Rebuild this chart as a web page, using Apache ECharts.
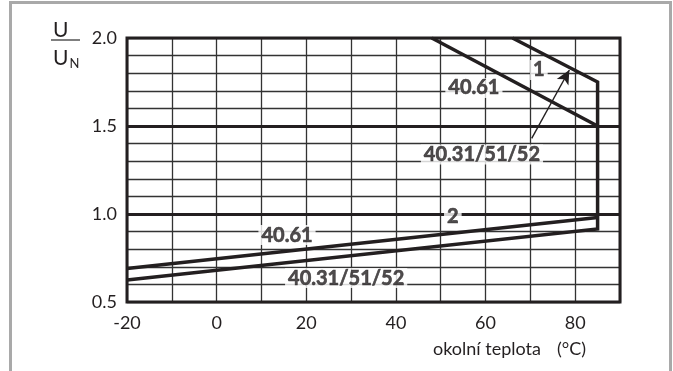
<!DOCTYPE html>
<html>
<head>
<meta charset="utf-8">
<script src="https://cdn.jsdelivr.net/npm/echarts@6/dist/echarts.min.js"></script>
<style>
  html, body { margin: 0; padding: 0; background: #fff; }
  #chart { width: 673px; height: 371px; }
</style>
</head>
<body>
<div id="chart"></div>
<script>
// Axis ranges and labelled ticks
const tempTicks = [-20, 0, 20, 40, 60, 80];
const ratioTicks = [0.5, 1.0, 1.5, 2.0];
const heavyRatioLines = [1.0, 1.5];

// Limit curves, [ambient temperature °C, U/UN]
const relay4031Curve = [[66, 2.0], [85, 1.75], [85, 0.915], [-20, 0.625]];
const relay4061Upper = [[48, 2.0], [85, 1.5]];
const relay4061Lower = [[85, 0.98], [-20, 0.69]];

// Curve annotations placed in data coordinates
const curveLabels = [
  { text: '1', at: [71.9, 1.818] },
  { text: '40.61', at: [57.4, 1.716] },
  { text: '40.31/51/52', at: [59.2, 1.338] },
  { text: '2', at: [52.7, 0.985] },
  { text: '40.61', at: [15.7, 0.88] },
  { text: '40.31/51/52', at: [28.9, 0.636] }
];
const pointerArrow = [[70.3, 1.43], [78.7, 1.818]];

const INK = '#231f20';
const chart = echarts.init(document.getElementById('chart'));

const curveStyle = { color: INK, width: 3.5, cap: 'butt', join: 'miter' };

function isTick(v, list) {
  return list.some(t => Math.abs(t - v) < 1e-6);
}

chart.setOption({
  animation: false,
  backgroundColor: '#fff',
  grid: {
    left: 127, right: 53, top: 38, bottom: 69,
    show: true, borderColor: INK, borderWidth: 3, z: 3
  },
  xAxis: {
    type: 'value', min: -20, max: 90, interval: 10,
    axisLine: { show: false },
    axisTick: { show: false },
    splitLine: { show: true, lineStyle: { color: '#333', width: 1.3 } },
    axisLabel: {
      margin: 12,
      fontFamily: 'Lato', fontSize: 18, color: '#231f20',
      formatter: v => isTick(v, tempTicks) ? String(v) : ''
    }
  },
  yAxis: {
    type: 'value', min: 0.5, max: 2.0, interval: 0.1,
    axisLine: { show: false },
    axisTick: { show: false },
    splitLine: { show: true, lineStyle: { color: '#333', width: 1.3 } },
    axisLabel: {
      margin: 10,
      fontFamily: 'Lato', fontSize: 18, color: '#231f20',
      formatter: v => isTick(v, ratioTicks) ? v.toFixed(1) : ''
    }
  },
  graphic: [
    { type: 'rect', shape: { x: 10.5, y: 2.5, width: 660, height: 420 },
      style: { fill: 'none', stroke: '#a9a9a9', lineWidth: 3 }, silent: true },
    { type: 'text', left: 53, top: 20,
      style: { text: 'U', font: '21px Lato', fill: '#231f20' } },
    { type: 'line', shape: { x1: 51, y1: 40, x2: 80, y2: 40 },
      style: { stroke: '#555', lineWidth: 1.5 } },
    { type: 'text', left: 53, top: 48,
      style: { text: '{u|U}{n|N}', rich: {
        u: { font: '21px Lato', fill: '#231f20' },
        n: { font: '13px Lato', fill: '#231f20', padding: [10, 0, 0, 1] }
      } } },
    { type: 'text', left: 433, top: 340,
      style: { text: 'okolní teplota', font: '18px Lato', fill: '#231f20' } },
    { type: 'text', left: 557, top: 340,
      style: { text: '(°C)', font: '18px Lato', fill: '#231f20' } }
  ],
  series: [
    {
      type: 'line', data: [], silent: true,
      markLine: {
        silent: true, symbol: 'none', label: { show: false },
        lineStyle: { color: INK, width: 3, type: 'solid' },
        data: heavyRatioLines.map(v => ({ yAxis: v }))
      }
    },
    { type: 'line', data: relay4031Curve, symbol: 'none', lineStyle: curveStyle, z: 4 },
    { type: 'line', data: relay4061Upper, symbol: 'none', lineStyle: curveStyle, z: 4 },
    { type: 'line', data: relay4061Lower, symbol: 'none', lineStyle: curveStyle, z: 4 },
    {
      type: 'line', data: [], silent: true, z: 5,
      markLine: {
        silent: true, symbol: ['none', 'arrow'], symbolSize: [10, 14],
        label: { show: false },
        lineStyle: { color: INK, width: 1.4, type: 'solid' },
        data: [[{ coord: pointerArrow[0] }, { coord: pointerArrow[1] }]]
      }
    },
    {
      type: 'scatter', symbolSize: 0, z: 6,
      data: curveLabels.map(d => ({ value: d.at, name: d.text })),
      label: {
        show: true, position: 'inside',
        formatter: p => p.name,
        fontFamily: 'Lato', fontWeight: 'bold', fontSize: 20, color: INK,
        textBorderColor: INK, textBorderWidth: 0.6,
        backgroundColor: '#fff', padding: [0, 3, 0, 3]
      }
    }
  ]
});
</script>
</body>
</html>
